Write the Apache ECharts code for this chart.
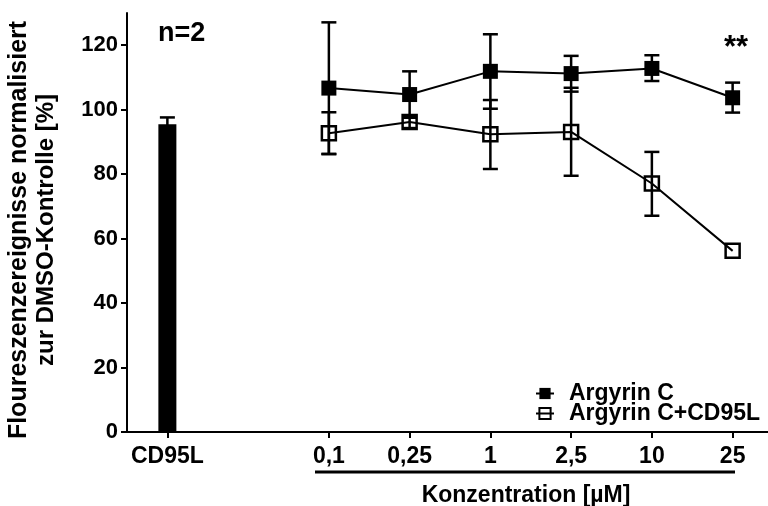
<!DOCTYPE html>
<html>
<head>
<meta charset="utf-8">
<script src="https://cdn.jsdelivr.net/npm/echarts@6/dist/echarts.min.js"></script>
<style>
html,body{margin:0;padding:0;background:#fff;}
#chart{width:768px;height:506px;}
</style>
</head>
<body>
<div id="chart"></div>
<script>
const categories = ['CD95L', '', '0,1', '0,25', '1', '2,5', '10', '25'];
const yTicks = [0, 20, 40, 60, 80, 100, 120];

const barValues = [95.5, '-', '-', '-', '-', '-', '-', '-'];
const barErrLow = [93.4, null, null, null, null, null, null, null];
const barErrHigh = [97.6, null, null, null, null, null, null, null];

const argyrinC = ['-', '-', 106.7, 104.7, 111.9, 111.2, 112.8, 103.7];
const argyrinCLow = [null, null, 86.3, 97.5, 100.3, 105.6, 108.9, 99.1];
const argyrinCHigh = [null, null, 127.1, 111.9, 123.4, 116.7, 116.9, 108.4];

const argyrinCD95L = ['-', '-', 92.7, 96.2, 92.4, 93.1, 77.1, 56.2];
const argyrinCD95LLow = [null, null, 86.2, 94.3, 81.6, 79.5, 67.1, null];
const argyrinCD95LHigh = [null, null, 99.2, 98.1, 103.0, 106.8, 86.9, null];

const FONT = "'Liberation Sans', Arial, Helvetica, sans-serif";

function errData(lo, hi) {
  const out = [];
  for (let i = 0; i < lo.length; i++) {
    if (lo[i] != null && hi[i] != null) out.push([i, lo[i], hi[i]]);
  }
  return out;
}

function errItem(params, api) {
  const x = api.value(0), lo = api.value(1), hi = api.value(2);
  const pHi = api.coord([x, hi]);
  const pLo = api.coord([x, lo]);
  const hw = 7.5;
  const st = { stroke: '#000', lineWidth: 2.5 };
  return {
    type: 'group',
    children: [
      { type: 'line', shape: { x1: pHi[0], y1: pHi[1], x2: pLo[0], y2: pLo[1] }, style: st },
      { type: 'line', shape: { x1: pHi[0] - hw, y1: pHi[1], x2: pHi[0] + hw, y2: pHi[1] }, style: st },
      { type: 'line', shape: { x1: pLo[0] - hw, y1: pLo[1], x2: pLo[0] + hw, y2: pLo[1] }, style: st }
    ]
  };
}

const chart = echarts.init(document.getElementById('chart'), null, { renderer: 'canvas' });

chart.setOption({
  animation: false,
  backgroundColor: '#fff',
  grid: { left: 127, right: -5, top: 13, bottom: 74, containLabel: false, outerBoundsMode: 'none' },
  xAxis: {
    type: 'category',
    data: categories,
    boundaryGap: true,
    axisLine: { show: true, lineStyle: { color: '#000', width: 2 } },
    axisTick: {
      show: true,
      alignWithLabel: true,
      length: 6,
      lineStyle: { color: '#000', width: 2 },
      interval: function (i) { return categories[i] !== ''; }
    },
    axisLabel: {
      interval: 0,
      margin: 13,
      color: '#000',
      fontSize: 23,
      fontWeight: 'bold',
      fontFamily: FONT
    },
    splitLine: { show: false }
  },
  yAxis: {
    type: 'value',
    min: 0,
    max: 130,
    interval: 20,
    axisLine: { show: true, lineStyle: { color: '#000', width: 2 } },
    axisTick: { show: true, length: 6, lineStyle: { color: '#000', width: 2 }, customValues: yTicks },
    axisLabel: {
      customValues: yTicks,
      margin: 9,
      color: '#000',
      fontSize: 22,
      fontWeight: 'bold',
      fontFamily: FONT
    },
    splitLine: { show: false }
  },
  legend: {
    orient: 'vertical',
    left: 530,
    top: 377,
    itemWidth: 18,
    itemHeight: 14,
    itemGap: -3,
    selectedMode: false,
    data: ['Argyrin C', 'Argyrin C+CD95L'],
    textStyle: {
      color: '#000',
      fontSize: 23,
      fontWeight: 'bold',
      fontFamily: FONT,
      lineHeight: 20,
      padding: [0, 0, 0, 10]
    }
  },
  graphic: [
    { type: 'text', left: 158, top: 20, style: { text: 'n=2', fill: '#000', font: 'bold 27px ' + FONT } },
    { type: 'text', x: 736, y: 48, style: { text: '**', fill: '#000', font: 'bold 31px ' + FONT, align: 'center', verticalAlign: 'middle' } },
    { type: 'line', shape: { x1: 315, y1: 472, x2: 735, y2: 472 }, style: { stroke: '#000', lineWidth: 3 } },
    { type: 'text', x: 526, y: 496, style: { text: 'Konzentration [µM]', fill: '#000', font: 'bold 23px ' + FONT, align: 'center', verticalAlign: 'middle' } },
    { type: 'text', x: 19, y: 230, rotation: Math.PI / 2, style: { text: 'Floureszenzereignisse normalisiert', fill: '#000', font: 'bold 25px ' + FONT, align: 'center', verticalAlign: 'middle' } },
    { type: 'text', x: 46, y: 230, rotation: Math.PI / 2, style: { text: 'zur DMSO-Kontrolle [%]', fill: '#000', font: 'bold 24px ' + FONT, align: 'center', verticalAlign: 'middle' } }
  ],
  series: [
    {
      type: 'bar',
      name: 'CD95L',
      data: barValues,
      barWidth: 18,
      itemStyle: { color: '#000' },
      silent: true,
      z: 1
    },
    {
      type: 'custom',
      name: 'barErr',
      data: errData(barErrLow, barErrHigh),
      encode: { x: 0, y: [1, 2] },
      renderItem: errItem,
      silent: true,
      z: 3
    },
    {
      type: 'line',
      name: 'Argyrin C',
      data: argyrinC,
      symbol: 'rect',
      symbolSize: 15,
      showSymbol: true,
      lineStyle: { color: '#000', width: 2 },
      itemStyle: { color: '#000', borderColor: '#000', borderWidth: 0 },
      emphasis: { disabled: true },
      z: 4
    },
    {
      type: 'line',
      name: 'Argyrin C+CD95L',
      data: argyrinCD95L,
      symbol: 'rect',
      symbolSize: 14,
      showSymbol: true,
      lineStyle: { color: '#000', width: 2 },
      itemStyle: { color: 'rgba(255,255,255,0)', borderColor: '#000', borderWidth: 2.5 },
      emphasis: { disabled: true },
      z: 4
    },
    {
      type: 'custom',
      name: 'errC',
      data: errData(argyrinCLow, argyrinCHigh),
      encode: { x: 0, y: [1, 2] },
      renderItem: errItem,
      silent: true,
      z: 5
    },
    {
      type: 'custom',
      name: 'errCD95L',
      data: errData(argyrinCD95LLow, argyrinCD95LHigh),
      encode: { x: 0, y: [1, 2] },
      renderItem: errItem,
      silent: true,
      z: 5
    }
  ]
});
</script>
</body>
</html>
